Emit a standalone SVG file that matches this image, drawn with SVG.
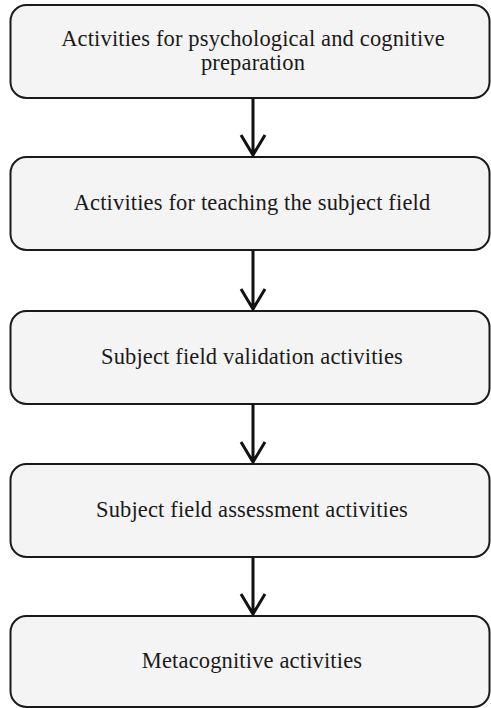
<svg xmlns="http://www.w3.org/2000/svg" width="491" height="708" viewBox="0 0 491 708">
<defs>
<style>
.box{fill:#f4f4f4;stroke:#1a1a1a;stroke-width:2}
.lbl{font-family:"Liberation Serif","Times New Roman",serif;font-size:22.5px;letter-spacing:0.15px;fill:#1a1a1a;text-anchor:middle}
.conn{stroke:#111;stroke-width:3;fill:none}
</style>
</defs>
<rect width="491" height="708" fill="#ffffff"/>
<g id="node1"><rect class="box" x="10.5" y="5" width="479" height="93" rx="16"/>
<text class="lbl" x="253" y="46">Activities for psychological and cognitive</text>
<text class="lbl" x="253" y="70">preparation</text></g>
<g id="node2"><rect class="box" x="10.5" y="157" width="479" height="93" rx="16"/>
<text class="lbl" x="252" y="210">Activities for teaching the subject field</text></g>
<g id="node3"><rect class="box" x="10.5" y="311" width="479" height="93" rx="16"/>
<text class="lbl" x="252" y="364">Subject field validation activities</text></g>
<g id="node4"><rect class="box" x="10.5" y="464" width="479" height="93" rx="16"/>
<text class="lbl" x="252" y="517">Subject field assessment activities</text></g>
<g id="node5"><rect class="box" x="10.5" y="616" width="479" height="91" rx="16"/>
<text class="lbl" x="252" y="668">Metacognitive activities</text></g>
<g id="connectors">
<path class="conn" d="M253 98V155M241 135L253 155L265 135"/>
<path class="conn" d="M253 250V309M241 289L253 309L265 289"/>
<path class="conn" d="M253 404V462M241 442L253 462L265 442"/>
<path class="conn" d="M253 557V614M241 594L253 614L265 594"/>
</g>
</svg>
